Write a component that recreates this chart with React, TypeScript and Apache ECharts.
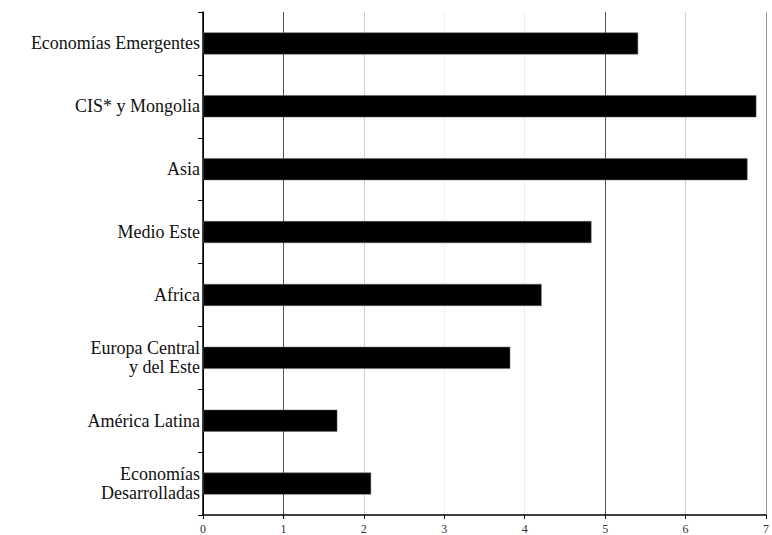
import React, { useEffect, useRef } from "react";
import * as echarts from "echarts";

const categories = [
  "Economías Emergentes",
  "CIS* y Mongolia",
  "Asia",
  "Medio Este",
  "Africa",
  "Europa Central\ny del Este",
  "América Latina",
  "Economías\nDesarrolladas",
];
const values = [5.41, 6.88, 6.77, 4.83, 4.21, 3.82, 1.67, 2.09];
const xTicks = [0, 1, 2, 3, 4, 5, 6, 7];

export default function App() {
  const ref = useRef<HTMLDivElement>(null);
  useEffect(() => {
    if (!ref.current) return;
    const chart = echarts.init(ref.current, undefined, { renderer: "svg" });
    const font = "Liberation Serif";
    chart.setOption({
      animation: false,
      backgroundColor: "#fff",
      textStyle: { fontFamily: font },
      grid: { left: 203, right: 4, top: 12, bottom: 20, containLabel: false },
      xAxis: {
        type: "value",
        min: xTicks[0],
        max: xTicks[xTicks.length - 1],
        interval: 1,
        axisLine: { show: true, lineStyle: { color: "#000", width: 1.5 } },
        axisTick: { show: true, length: 4, lineStyle: { color: "#000" } },
        axisLabel: { color: "#333", fontSize: 12, fontFamily: font, margin: 8 },
        splitLine: {
          show: true,
          lineStyle: {
            color: ["#000", "#555", "#cfcfcf", "#f0f0f0", "#ececec", "#555", "#cfcfcf", "#999"],
            width: 1,
          },
        },
      },
      yAxis: {
        type: "category",
        data: categories,
        inverse: true,
        axisLine: { show: true, lineStyle: { color: "#000", width: 1.5 } },
        axisTick: { show: true, length: 5, alignWithLabel: false, lineStyle: { color: "#000" } },
        axisLabel: {
          color: "#111",
          fontSize: 18,
          fontFamily: font,
          margin: 3,
          lineHeight: 19,
          align: "right",
        },
        splitLine: { show: false },
      },
      series: [
        {
          type: "bar",
          data: values,
          barWidth: 22,
          itemStyle: { color: "#000", borderColor: "#666", borderWidth: 0.5 },
        },
      ],
    });
    return () => chart.dispose();
  }, []);
  return (
    <div
      ref={ref}
      style={{ position: "fixed", left: 0, top: 0, width: 772, height: 535 }}
    />
  );
}
